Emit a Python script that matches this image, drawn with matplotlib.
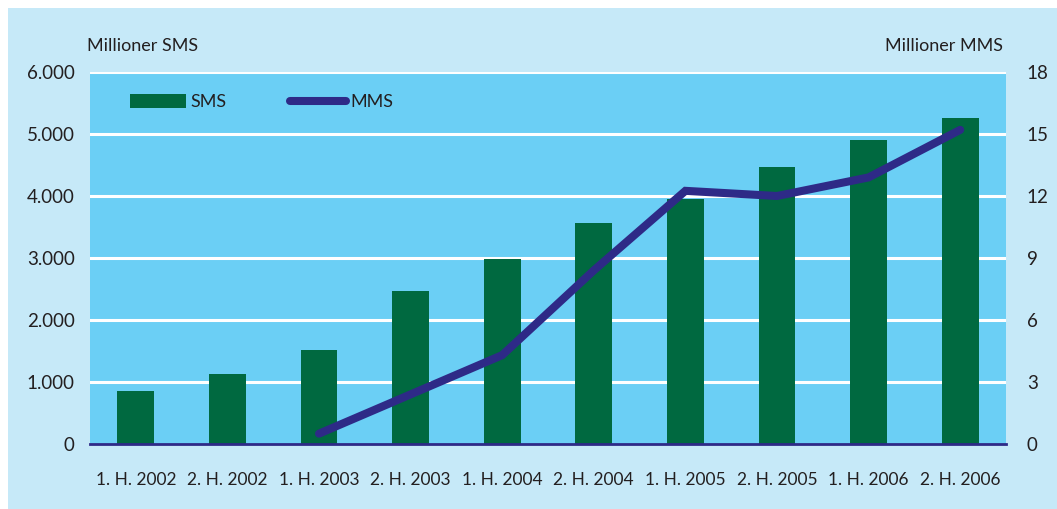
import matplotlib
matplotlib.use('Agg')
import matplotlib.pyplot as plt
from matplotlib.patches import Rectangle, Patch
from matplotlib.lines import Line2D
import numpy as np

plt.rcParams['font.family'] = ['Lato', 'DejaVu Sans']

# data
periods = ['1. H. 2002', '2. H. 2002', '1. H. 2003', '2. H. 2003', '1. H. 2004',
           '2. H. 2004', '1. H. 2005', '2. H. 2005', '1. H. 2006', '2. H. 2006']
sms = [860, 1130, 1520, 2470, 2990, 3570, 3950, 4470, 4900, 5260]
mms = [np.nan, np.nan, 0.5, 2.4, 4.3, 8.4, 12.25, 12.0, 12.9, 15.2]
left_ticks = [0, 1000, 2000, 3000, 4000, 5000, 6000]
left_labels = ['0', '1.000', '2.000', '3.000', '4.000', '5.000', '6.000']
right_ticks = [0, 3, 6, 9, 12, 15, 18]

outer_bg = '#c6e9f8'
plot_bg = '#6bcff5'
green = '#006940'
navy = '#2e2a87'
text_col = '#231f20'

W, H = 1057, 509
fig = plt.figure(figsize=(W / 100, H / 100), dpi=100)
fig.patch.set_facecolor('white')
fig.patches.append(Rectangle((8 / W, 0), 1 - 8 / W, 1 - 8 / H, transform=fig.transFigure,
                             facecolor=outer_bg, edgecolor='none', zorder=-10))

ax = fig.add_axes([90 / W, (H - 444) / H, (1006 - 90) / W, (444 - 72) / H])
ax.set_zorder(1)
ax.set_facecolor(plot_bg)
x = np.arange(len(periods))
ax.bar(x, sms, width=0.4, color=green, zorder=2)
ax.set_xlim(-0.5, len(periods) - 0.5)
ax.set_ylim(0, 6000)
ax.set_yticks(left_ticks)
ax.set_yticklabels(left_labels)
ax.set_xticks(x)
ax.set_xticklabels(periods)
for t in left_ticks[1:]:
    ax.axhline(t, color='white', lw=2.2, zorder=1)
for s in ['top', 'left', 'right']:
    ax.spines[s].set_visible(False)
ax.spines['bottom'].set_color(navy)
ax.spines['bottom'].set_linewidth(2)
ax.spines['bottom'].set_zorder(5)
ax.tick_params(axis='both', length=0, labelsize=12.5, colors=text_col)
ax.tick_params(axis='x', pad=20)
ax.tick_params(axis='y', pad=11, labelsize=13.5)

ax2 = ax.twinx()
ax2.set_zorder(2)
ax2.patch.set_visible(False)
ax2.plot(x, mms, color=navy, lw=5.8, solid_capstyle='round', solid_joinstyle='miter', zorder=3)
ax2.set_ylim(0, 18)
ax2.set_yticks(right_ticks)
for s in ['top', 'left', 'right', 'bottom']:
    ax2.spines[s].set_visible(False)
ax2.tick_params(axis='y', length=0, pad=15, labelsize=13.5, colors=text_col)

fig.text(87 / W, 1 - 46 / H, 'Millioner SMS', ha='left', va='center', fontsize=13, color=text_col)
fig.text(1003 / W, 1 - 46 / H, 'Millioner MMS', ha='right', va='center', fontsize=13, color=text_col)

handles = [Patch(facecolor=green, edgecolor='none'),
           Line2D([0], [0], color=navy, lw=5.8, solid_capstyle='round')]
leg = ax2.legend(handles, ['SMS', 'MMS'], ncol=2, frameon=False,
                 loc='center left', bbox_to_anchor=(40 / 916, 1 - 30 / 372),
                 fontsize=13, handlelength=3.1, handleheight=0.8, handletextpad=0.25,
                 columnspacing=3.5, borderpad=0, borderaxespad=0)
for t in leg.get_texts():
    t.set_color(text_col)

fig.savefig('out.png', dpi=100, facecolor=fig.get_facecolor())
